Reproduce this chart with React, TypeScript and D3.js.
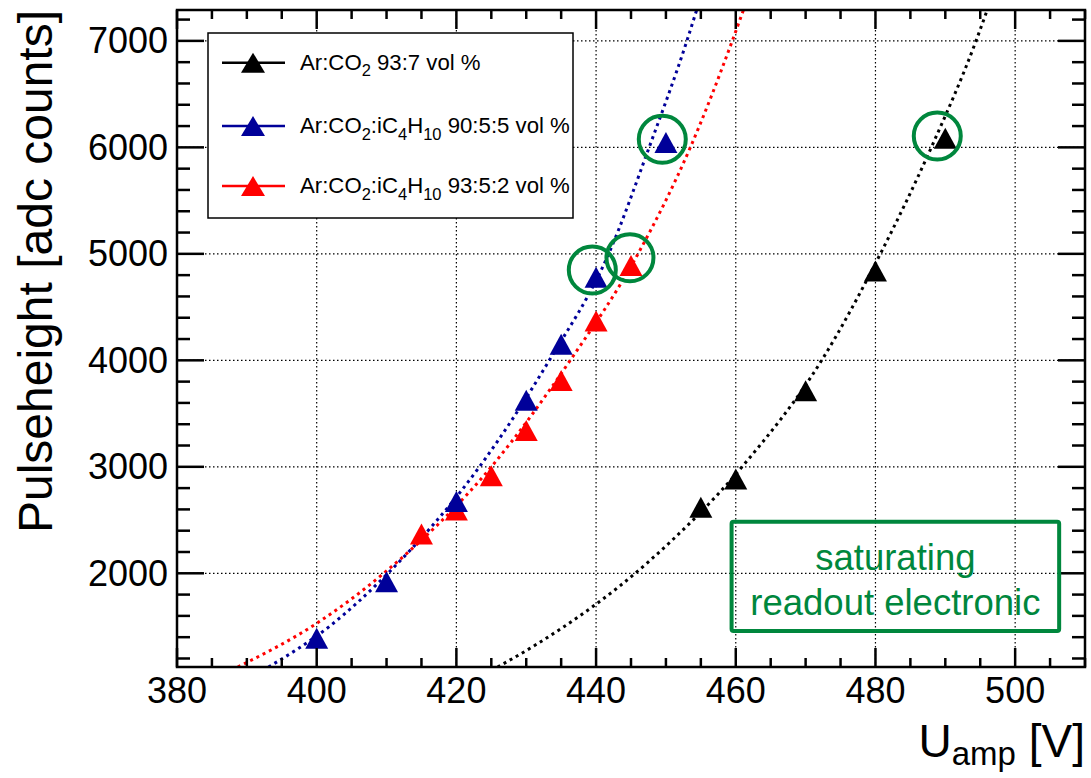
import React from "react";
import * as d3 from "d3";

// ---- data ----
const voltsBlack = [455, 460, 470, 480, 490];
const pulseBlack = [2620, 2885, 3715, 4840, 6085];

const voltsBlue = [400, 410, 420, 430, 435, 440, 450];
const pulseBlue = [1390, 1920, 2675, 3625, 4150, 4780, 6045];

const voltsRed = [415, 420, 425, 430, 435, 440, 445];
const pulseRed = [2370, 2595, 2915, 3340, 3810, 4370, 4890];

// fit curves
const fitBlackX = [425.9, 431.3, 447.5, 460.9, 472.3, 480.7, 488.0, 494.4, 496.0];
const fitBlackY = [1120, 1326, 2108, 3000, 4000, 5000, 6000, 7000, 7290];
const fitBlueX = [393.1, 401.8, 410.2, 423.3, 433.3, 441.8, 447.6, 453.0, 454.4];
const fitBlueY = [1120, 1500, 2000, 3000, 4000, 5000, 6000, 7000, 7290];
const fitRedX = [388.7, 400.0, 409.6, 425.0, 436.3, 446.0, 453.5, 459.5, 461.1];
const fitRedY = [1120, 1530, 2000, 3000, 4000, 5000, 6000, 7000, 7290];

const xTicks = [380, 400, 420, 440, 460, 480, 500];
const yTicks = [2000, 3000, 4000, 5000, 6000, 7000];

// highlighted (saturated) points, in data units
const circleV = [439.46, 444.85, 449.48, 488.85];
const circleP = [4848, 4964, 6076, 6107];

const noteLines = ["saturating", "readout electronic"];

const colBlack = "#000000";
const colBlue = "#000099";
const colRed = "#ff0000";
const colGreen = "#00873d";

const FONT = "'Liberation Sans', Arial, Helvetica, sans-serif";

type Part = { t: string; sub?: boolean };
const legendEntries: { color: string; parts: Part[] }[] = [
  { color: colBlack, parts: [{ t: "Ar:CO" }, { t: "2", sub: true }, { t: " 93:7 vol %" }] },
  {
    color: colBlue,
    parts: [
      { t: "Ar:CO" }, { t: "2", sub: true }, { t: ":iC" }, { t: "4", sub: true },
      { t: "H" }, { t: "10", sub: true }, { t: " 90:5:5 vol %" },
    ],
  },
  {
    color: colRed,
    parts: [
      { t: "Ar:CO" }, { t: "2", sub: true }, { t: ":iC" }, { t: "4", sub: true },
      { t: "H" }, { t: "10", sub: true }, { t: " 93:5:2 vol %" },
    ],
  },
];

const W = 1091;
const H = 778;
const L = 177, R = 1085, T = 10, B = 667;

const x = d3.scaleLinear().domain([380, 510]).range([L, R]);
const y = d3.scaleLinear().domain([1120, 7290]).range([B, T]);

const triW = 23, triH = 21;
function tri(cx: number, cy: number, w = triW, h = triH) {
  return `M${cx},${cy - h / 2}L${cx + w / 2},${cy + h / 2}L${cx - w / 2},${cy + h / 2}Z`;
}

const lineGen = d3
  .line<[number, number]>()
  .x((d) => x(d[0]))
  .y((d) => y(d[1]))
  .curve(d3.curveMonotoneX);

function zip(a: number[], b: number[]): [number, number][] {
  return a.map((v, i) => [v, b[i]]);
}

export default function App() {
  const series = [
    { vx: voltsBlack, vy: pulseBlack, fx: fitBlackX, fy: fitBlackY, color: colBlack },
    { vx: voltsRed, vy: pulseRed, fx: fitRedX, fy: fitRedY, color: colRed },
    { vx: voltsBlue, vy: pulseBlue, fx: fitBlueX, fy: fitBlueY, color: colBlue },
  ];

  const xMinor = d3.range(380, 511, 5);
  const yMinor = d3.range(1200, 7290, 200);

  const axisW = 2.5;

  const legX0 = 208, legY0 = 33, legX1 = 573, legY1 = 218;
  const legRows = [62.7, 126, 186];
  const legFs = 22.2;
  const legSubFs = 16.5;

  const boxV0 = 459.4, boxV1 = 506.3, boxP0 = 1458, boxP1 = 2485;

  return (
    <svg width={W} height={H} style={{ display: "block", position: "absolute", left: 0, top: 0 }} fontFamily={FONT}>
      <rect x={0} y={0} width={W} height={H} fill="#fff" />
      <defs>
        <clipPath id="plotclip">
          <rect x={L} y={T} width={R - L} height={B - T} />
        </clipPath>
      </defs>

      {/* grid */}
      <g stroke="#000" strokeWidth={1.2} strokeDasharray="1.5 2.5">
        {xTicks.filter((t) => t > 380).map((t) => (
          <line key={"gx" + t} x1={x(t)} x2={x(t)} y1={T} y2={B} />
        ))}
        {yTicks.map((t) => (
          <line key={"gy" + t} x1={L} x2={R} y1={y(t)} y2={y(t)} />
        ))}
      </g>

      {/* fit curves */}
      <g clipPath="url(#plotclip)" fill="none">
        {series.map((s, i) => (
          <path
            key={"fit" + i}
            d={lineGen(zip(s.fx, s.fy)) || ""}
            stroke={s.color}
            strokeWidth={3}
            strokeDasharray="3 4"
          />
        ))}
      </g>

      {/* markers */}
      <g>
        {series.map((s, i) =>
          s.vx.map((v, j) => <path key={`m${i}-${j}`} d={tri(x(v), y(s.vy[j]))} fill={s.color} />)
        )}
      </g>

      {/* frame */}
      <rect x={L} y={T} width={R - L} height={B - T} fill="none" stroke="#000" strokeWidth={axisW} />

      {/* ticks */}
      <g stroke="#000" strokeWidth={axisW}>
        {xMinor.map((t) => {
          const major = t % 20 === 0;
          const len = major ? 19 : 9;
          return (
            <g key={"xt" + t}>
              <line x1={x(t)} x2={x(t)} y1={B} y2={B - len} />
              <line x1={x(t)} x2={x(t)} y1={T} y2={T + len} />
            </g>
          );
        })}
        {yMinor.map((t) => {
          const major = t % 1000 === 0;
          const len = major ? 27 : 13;
          return (
            <g key={"yt" + t}>
              <line x1={L} x2={L + len} y1={y(t)} y2={y(t)} />
              <line x1={R} x2={R - len} y1={y(t)} y2={y(t)} />
            </g>
          );
        })}
      </g>

      {/* tick labels */}
      <g fontSize={36} fill="#000">
        {xTicks.map((t) => (
          <text key={"xl" + t} x={x(t)} y={703} textAnchor="middle">
            {t}
          </text>
        ))}
        {yTicks.map((t) => (
          <text key={"yl" + t} x={168} y={y(t) + 12.5} textAnchor="end">
            {t}
          </text>
        ))}
      </g>

      {/* axis titles */}
      <text x={1085} y={757} textAnchor="end" fontSize={46} fill="#000">
        U<tspan fontSize={33} dy={8}>amp</tspan>
        <tspan dy={-8}> [V]</tspan>
      </text>
      <text
        transform="translate(52,533) rotate(-90)"
        x={0}
        y={0}
        textAnchor="start"
        fontSize={48}
        fill="#000"
      >
        Pulseheight [adc counts]
      </text>

      {/* legend */}
      <rect x={legX0} y={legY0} width={legX1 - legX0} height={legY1 - legY0} fill="#fff" stroke="#000" strokeWidth={1.5} />
      {legendEntries.map((e, i) => {
        const cy = legRows[i];
        return (
          <g key={"leg" + i}>
            <line x1={222} x2={285} y1={cy} y2={cy} stroke={e.color} strokeWidth={2.5} />
            <path d={tri(253, cy, 24, 20)} fill={e.color} />
            <text x={300} y={cy + 7} fontSize={legFs} fill="#000">
              {e.parts.map((p, k) => {
                const prevSub = k > 0 && e.parts[k - 1].sub;
                let dy = 0;
                if (p.sub && !prevSub) dy = 6.5;
                if (!p.sub && prevSub) dy = -6.5;
                return (
                  <tspan key={k} dy={dy} fontSize={p.sub ? legSubFs : legFs}>
                    {p.t}
                  </tspan>
                );
              })}
            </text>
          </g>
        );
      })}

      {/* annotations */}
      <g fill="none" stroke={colGreen} strokeWidth={4}>
        {circleV.map((v, i) => (
          <circle key={"c" + i} cx={x(v)} cy={y(circleP[i])} r={23.5} />
        ))}
        <rect x={x(boxV0)} y={y(boxP1)} width={x(boxV1) - x(boxV0)} height={y(boxP0) - y(boxP1)} rx={2} />
      </g>
      <g fill={colGreen} fontSize={36.5} textAnchor="middle">
        <text x={(x(boxV0) + x(boxV1)) / 2} y={570}>
          {noteLines[0]}
        </text>
        <text x={(x(boxV0) + x(boxV1)) / 2} y={615}>
          {noteLines[1]}
        </text>
      </g>
    </svg>
  );
}
